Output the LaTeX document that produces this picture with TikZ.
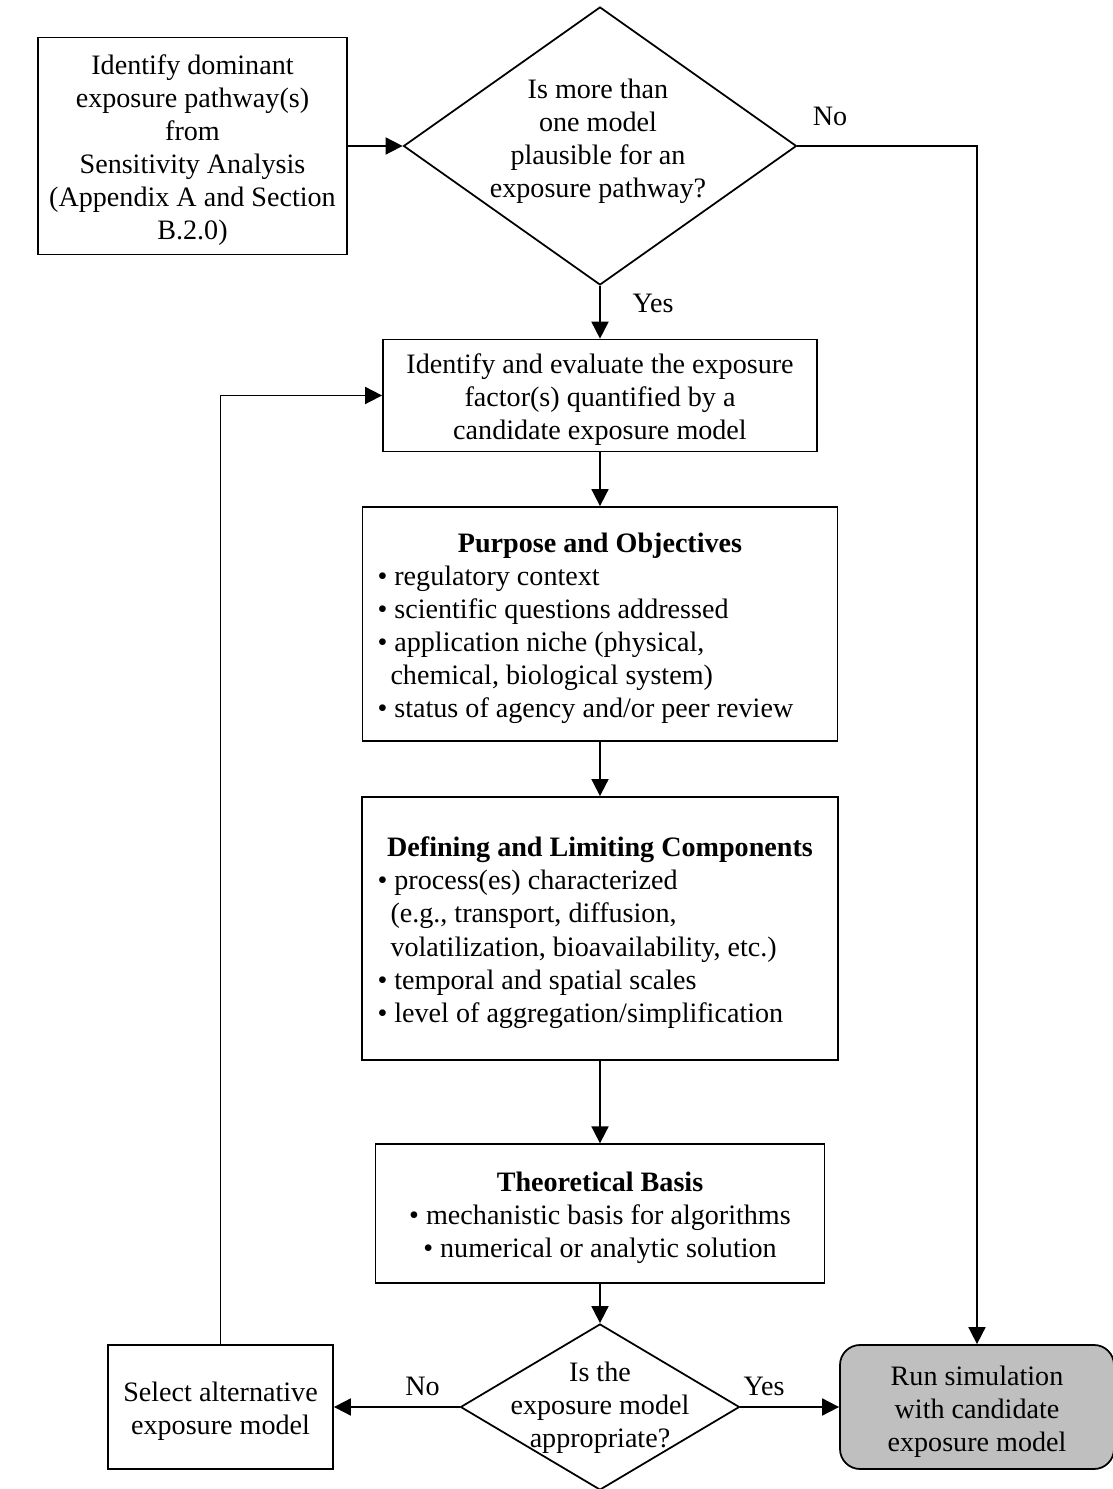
\documentclass[tikz,border=0pt]{standalone}
\usepackage{fontspec}
\setmainfont{Liberation Serif}
\usepackage{tikz}
\usetikzlibrary{shapes.geometric, arrows.meta}
\newcommand{\topgap}{\rule{0pt}{16pt}}

\begin{document}
\begin{tikzpicture}[every node/.style={font=\fontsize{16}{18.8}\selectfont, align=flush center},
    box/.style={draw, line width=1pt, rectangle},
    decision/.style={draw, line width=1pt, diamond, inner sep=0pt},
    arr/.style={line width=1pt, -{Triangle[length=0.34cm, width=0.34cm]}}]
    \useasboundingbox (0,0) rectangle (22.24,29.78);

    % Start and first decision
    \node[box, minimum width=6.18cm, minimum height=4.34cm] (id) at (3.85,26.86)
        {\topgap Identify dominant\\exposure pathway(s)\\from\\Sensitivity Analysis\\(Appendix A and Section\\B.2.0)};
    \node[decision, minimum width=7.86cm, minimum height=5.56cm] (q1) at (12.0,26.86) {};
    \node (q1txt) at (11.96,26.95) {Is more than\\one model\\plausible for an\\exposure pathway?};

    % Evaluation boxes
    \node[box, minimum width=8.68cm, minimum height=2.2cm] (ev) at (12.0,21.87)
        {\topgap Identify and evaluate the exposure\\factor(s) quantified by a\\candidate exposure model};
    \node[box, minimum width=9.5cm, minimum height=4.68cm, text width=8.9cm, align=flush left] (po) at (12.0,17.30)
        {\topgap\makebox[\linewidth]{\textbf{Purpose and Objectives}}\\
         \textbullet{} regulatory context\\
         \textbullet{} scientific questions addressed\\
         \textbullet{} application niche (physical,\\
         \hspace*{0.26cm}chemical, biological system)\\
         \textbullet{} status of agency and/or peer review};
    \node[box, minimum width=9.52cm, minimum height=5.26cm, text width=8.9cm, align=flush left] (dl) at (12.0,11.21)
        {\topgap\makebox[\linewidth]{\textbf{Defining and Limiting Components}}\\
         \textbullet{} process(es) characterized\\
         \hspace*{0.26cm}(e.g., transport, diffusion,\\
         \hspace*{0.26cm}volatilization, bioavailability, etc.)\\
         \textbullet{} temporal and spatial scales\\
         \textbullet{} level of aggregation/simplification};
    \node[box, minimum width=8.98cm, minimum height=2.77cm] (tb) at (12.0,5.51)
        {\topgap\textbf{Theoretical Basis}\\\textbullet{} mechanistic basis for algorithms\\\textbullet{} numerical or analytic solution};

    % Second decision and outcomes
    \node[decision, minimum width=5.58cm, minimum height=3.32cm] (q2) at (12.0,1.64) {};
    \node (q2txt) at (12.0,1.62) {Is the\\exposure model\\appropriate?};
    \node[box, minimum width=4.5cm, minimum height=2.48cm] (alt) at (4.41,1.64)
        {\topgap Select alternative\\exposure model};
    \node[box, rounded corners=0.4cm, fill=black!25, minimum width=5.48cm, minimum height=2.48cm] (run) at (19.54,1.64)
        {\topgap Run simulation\\with candidate\\exposure model};

    % Branch labels
    \node (no1) at (16.6,27.46) {No};
    \node (yes1) at (13.06,23.72) {Yes};
    \node (no2) at (8.45,2.06) {No};
    \node (yes2) at (15.28,2.06) {Yes};

    % Connectors
    \draw[arr] (id) -- (q1);
    \draw[arr] (q1.east) -| (run.north);
    \draw[arr] (q1) -- (ev);
    \draw[arr] (ev) -- (po);
    \draw[arr] (po) -- (dl);
    \draw[arr] (dl) -- (tb);
    \draw[arr] (tb) -- (q2);
    \draw[arr] (q2) -- (alt);
    \draw[arr] (q2) -- (run);
    \draw[arr] (alt.north) |- (ev.west);
\end{tikzpicture}
\end{document}
